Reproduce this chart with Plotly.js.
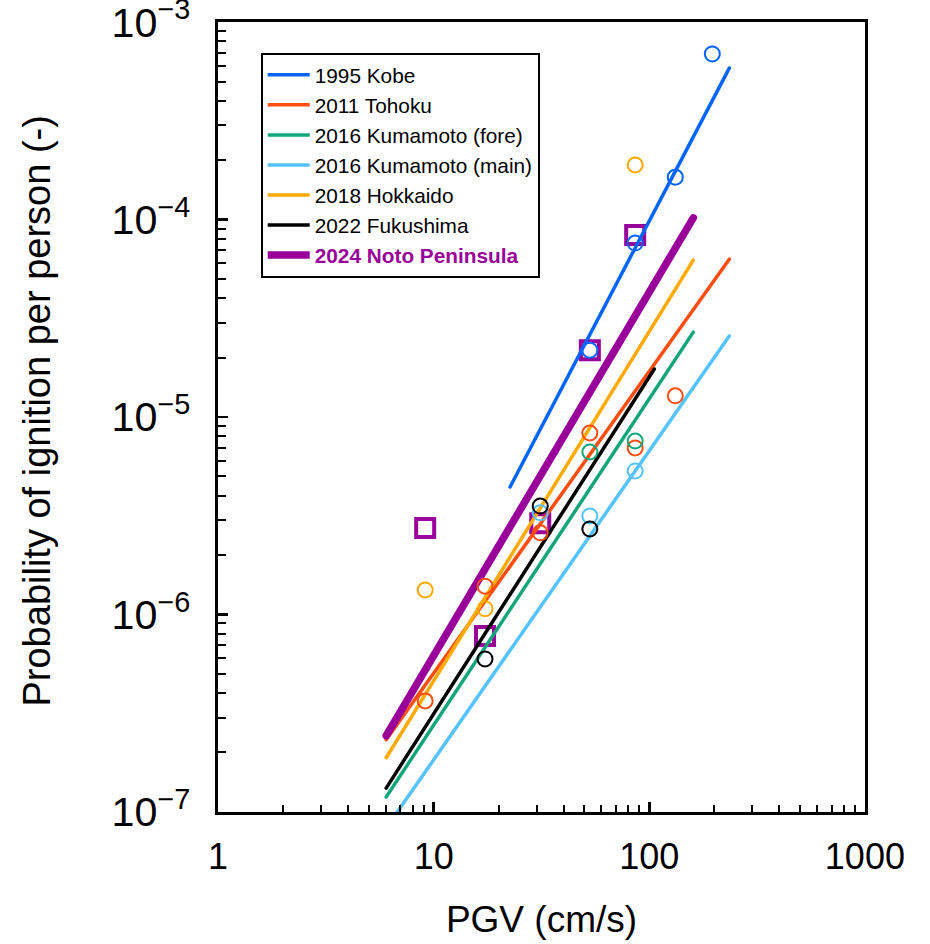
<!DOCTYPE html>
<html>
<head>
<meta charset="utf-8">
<script src="https://cdn.plot.ly/plotly-3.0.1.min.js"></script>
<style>
html,body{margin:0;padding:0;background:#fff;}
#chart{width:930px;height:944px;}
.scatterlayer .js-line{stroke-linecap:round;}
</style>
</head>
<body>
<div id="chart"></div>
<script>
// ---- data ----
const eventNames = ["1995 Kobe","2011 Tohoku","2016 Kumamoto (fore)","2016 Kumamoto (main)","2018 Hokkaido","2022 Fukushima","2024 Noto Peninsula"];

const kobeLineX = [22.6, 235];          const kobeLineY = [4.42e-6, 5.85e-4];
const kobePtsX  = [196, 132, 86, 53];   const kobePtsY  = [6.9e-4, 1.64e-4, 7.6e-5, 2.18e-5];

const tohokuLineX = [6.02, 235];        const tohokuLineY = [2.32e-7, 6.3e-5];
const tohokuPtsX  = [132, 86, 53, 31.2, 17.3, 9.13];
const tohokuPtsY  = [1.28e-5, 6.97e-6, 8.3e-6, 2.59e-6, 1.39e-6, 3.65e-7];

const foreLineX = [6.02, 160];          const foreLineY = [1.19e-7, 2.69e-5];
const forePtsX  = [86, 53];             const forePtsY  = [7.56e-6, 6.65e-6];

const mainLineX = [6.02, 235];          const mainLineY = [8.3e-8, 2.57e-5];
const mainPtsX  = [86, 53, 31.2];       const mainPtsY  = [5.33e-6, 3.15e-6, 3.27e-6];

const hokkaidoLineX = [6.02, 160];      const hokkaidoLineY = [1.88e-7, 6.23e-5];
const hokkaidoPtsX  = [86, 9.13, 17.3]; const hokkaidoPtsY  = [1.89e-4, 1.33e-6, 1.07e-6];

const fukushimaLineX = [6.02, 105.5];   const fukushimaLineY = [1.32e-7, 1.75e-5];
const fukushimaPtsX  = [31.2, 53, 17.3];const fukushimaPtsY  = [3.54e-6, 2.71e-6, 5.95e-7];

const notoLineX = [6.02, 160];          const notoLineY = [2.43e-7, 1.02e-4];
const notoPtsX  = [9.13, 17.3, 31.2, 53, 86];
const notoPtsY  = [2.74e-6, 7.78e-7, 2.9e-6, 2.18e-5, 8.35e-5];

// ---- styles ----
const colors = ["#0064ff", "#ff4d0f", "#14a67a", "#55c3ff", "#ffaa00", "#000000", "#990099"];

const lines = [
  [kobeLineX, kobeLineY], [tohokuLineX, tohokuLineY], [foreLineX, foreLineY],
  [mainLineX, mainLineY], [hokkaidoLineX, hokkaidoLineY], [fukushimaLineX, fukushimaLineY],
  [notoLineX, notoLineY]
];
const pts = [
  [kobePtsX, kobePtsY], [tohokuPtsX, tohokuPtsY], [forePtsX, forePtsY],
  [mainPtsX, mainPtsY], [hokkaidoPtsX, hokkaidoPtsY], [fukushimaPtsX, fukushimaPtsY],
  [notoPtsX, notoPtsY]
];

const traces = [];
traces.push({
  x: pts[6][0], y: pts[6][1], type: "scatter", mode: "markers", showlegend: false,
  marker: {symbol: "square-open", size: 18, color: colors[6], line: {width: 4, color: colors[6]}},
  hoverinfo: "skip"
});
for (let i = 0; i < 7; i++) {
  const isNoto = i === 6;
  traces.push({
    x: lines[i][0], y: lines[i][1], type: "scatter", mode: "lines",
    name: isNoto ? '<b><span style="color:#990099">' + eventNames[i] + '</span></b>' : eventNames[i],
    legendgroup: "g" + i,
    line: {color: colors[i], width: isNoto ? 7.5 : 3.5}
  });
}
for (let i = 0; i < 6; i++) {
  traces.push({
    x: pts[i][0], y: pts[i][1], type: "scatter", mode: "markers", showlegend: false,
    legendgroup: "g" + i,
    marker: {symbol: "circle-open", size: 15, color: colors[i], line: {width: 2, color: colors[i]}},
    hoverinfo: "skip"
  });
}

const layout = {
  width: 930, height: 944,
  margin: {l: 218, r: 65, t: 22, b: 132},
  paper_bgcolor: "#fff", plot_bgcolor: "#fff",
  font: {family: "Liberation Sans, Arial, sans-serif", color: "#000"},
  showlegend: true,
  legend: {
    x: 0.066, y: 0.961, xanchor: "left", yanchor: "top",
    bordercolor: "#000", borderwidth: 2, bgcolor: "#fff",
    font: {size: 20.8, color: "#000"},
    itemwidth: 42,
    traceorder: "grouped", tracegroupgap: 0
  },
  xaxis: {
    type: "log", range: [-0.0005, 3.0005], dtick: 1,
    exponentformat: "none",
    ticks: "inside", ticklen: 10, tickwidth: 2.5, tickcolor: "#000",
    minor: {ticks: "inside", dtick: "D1", ticklen: 7, tickwidth: 2, tickcolor: "#000", showgrid: false},
    showline: true, linewidth: 3, linecolor: "#000", mirror: true,
    showgrid: false, zeroline: false,
    tickfont: {size: 36},
    ticklabelstandoff: 11,
    title: {text: "PGV (cm/s)", font: {size: 37}, standoff: 30}
  },
  yaxis: {
    type: "log", range: [-7.0005, -2.9995], dtick: 1,
    exponentformat: "power",
    ticklabeloverflow: "allow",
    ticks: "inside", ticklen: 10, tickwidth: 2.5, tickcolor: "#000",
    minor: {ticks: "inside", dtick: "D1", ticklen: 8, tickwidth: 2, tickcolor: "#000", showgrid: false},
    showline: true, linewidth: 3, linecolor: "#000", mirror: true,
    showgrid: false, zeroline: false,
    tickfont: {size: 33},
    ticklabelstandoff: 18
  },
  annotations: [{
    text: "Probability of ignition per person (-)",
    xref: "paper", yref: "paper", x: -0.28, y: 0.508,
    xanchor: "center", yanchor: "middle", textangle: -90,
    showarrow: false, font: {size: 38, color: "#000"}
  }]
};

Plotly.newPlot("chart", traces, layout, {displayModeBar: false, staticPlot: true});
</script>
</body>
</html>
